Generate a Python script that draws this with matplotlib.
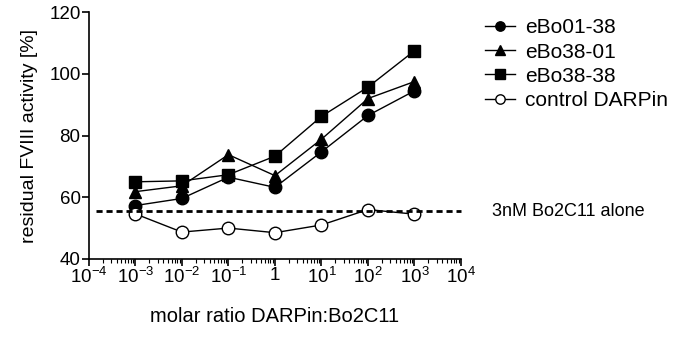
import numpy as np
import matplotlib
matplotlib.use('Agg')
import matplotlib.pyplot as plt
import matplotlib.transforms as mtransforms
from matplotlib.ticker import LogLocator, FixedLocator, NullFormatter

plt.rcParams['font.family'] = ['Liberation Sans', 'DejaVu Sans']
plt.rcParams['mathtext.fontset'] = 'custom'
plt.rcParams['mathtext.rm'] = 'Liberation Sans'
plt.rcParams['mathtext.it'] = 'Liberation Sans'
plt.rcParams['mathtext.default'] = 'regular'

# molar ratio DARPin:Bo2C11
ratio = [1e-3, 1e-2, 1e-1, 1, 1e1, 1e2, 1e3]

eBo01_38 = [57.3, 59.6, 66.5, 63.2, 74.7, 86.5, 94.5]
eBo38_01 = [61.8, 63.7, 73.8, 67.0, 78.8, 92.0, 97.5]
eBo38_38 = [65.0, 65.3, 67.3, 73.3, 86.2, 95.7, 107.5]
control = [54.6, 48.7, 50.0, 48.5, 51.0, 56.0, 54.5]

bo2c11_alone = 55.4

xticks = [1e-4, 1e-3, 1e-2, 1e-1, 1, 1e1, 1e2, 1e3, 1e4]
xticklabels = ['10$^{-4}$', '10$^{-3}$', '10$^{-2}$', '10$^{-1}$', '1',
               '10$^{1}$', '10$^{2}$', '10$^{3}$', '10$^{4}$']
yticks = [40, 60, 80, 100, 120]

fig = plt.figure(figsize=(6.73, 3.38), dpi=100)
ax = fig.add_axes([0.132, 0.234, 0.553, 0.730])

ms = 9
ax.plot(ratio, eBo01_38, color='black', lw=1, marker='o', ms=ms, label='eBo01-38')
ax.plot(ratio, eBo38_01, color='black', lw=1, marker='^', ms=ms, label='eBo38-01')
ax.plot(ratio, eBo38_38, color='black', lw=1, marker='s', ms=ms, label='eBo38-38')
ax.plot(ratio, control, color='black', lw=1, marker='o', ms=ms,
        markerfacecolor='white', label='control DARPin')

ax.axhline(bo2c11_alone, xmin=0.02, xmax=1.0, color='black', lw=2,
           ls=(0, (2.2, 1.4)), clip_on=False)
trans = mtransforms.blended_transform_factory(ax.transAxes, ax.transData)
ax.text(1.083, bo2c11_alone, '3nM Bo2C11 alone', transform=trans,
        ha='left', va='center', fontsize=13)

ax.set_xscale('log')
ax.set_xlim(1e-4, 1e4)
ax.set_ylim(40, 120)
ax.xaxis.set_major_locator(FixedLocator(xticks))
ax.set_xticklabels(xticklabels)
ax.xaxis.set_minor_locator(LogLocator(base=10, subs=np.arange(2, 10), numticks=20))
ax.xaxis.set_minor_formatter(NullFormatter())
ax.set_yticks(yticks)

for side in ['top', 'right']:
    ax.spines[side].set_visible(False)
for side in ['left', 'bottom']:
    ax.spines[side].set_linewidth(1.2)
ax.tick_params(axis='both', which='major', direction='out', length=5, width=1.2,
               labelsize=13.5, pad=1)
ax.tick_params(axis='x', which='minor', direction='out', length=3, width=0.8)

ax.set_ylabel('residual FVIII activity [%]', fontsize=14, labelpad=8)
ax.set_xlabel('molar ratio DARPin:Bo2C11', fontsize=14.5, labelpad=14)

ax.legend(loc='upper left', bbox_to_anchor=(1.065, 0.975), frameon=False,
          fontsize=15, handlelength=1.45, handletextpad=0.45, labelspacing=0.25,
          borderaxespad=0, borderpad=0, markerscale=0.75)

fig.savefig('out.png', dpi=100)
